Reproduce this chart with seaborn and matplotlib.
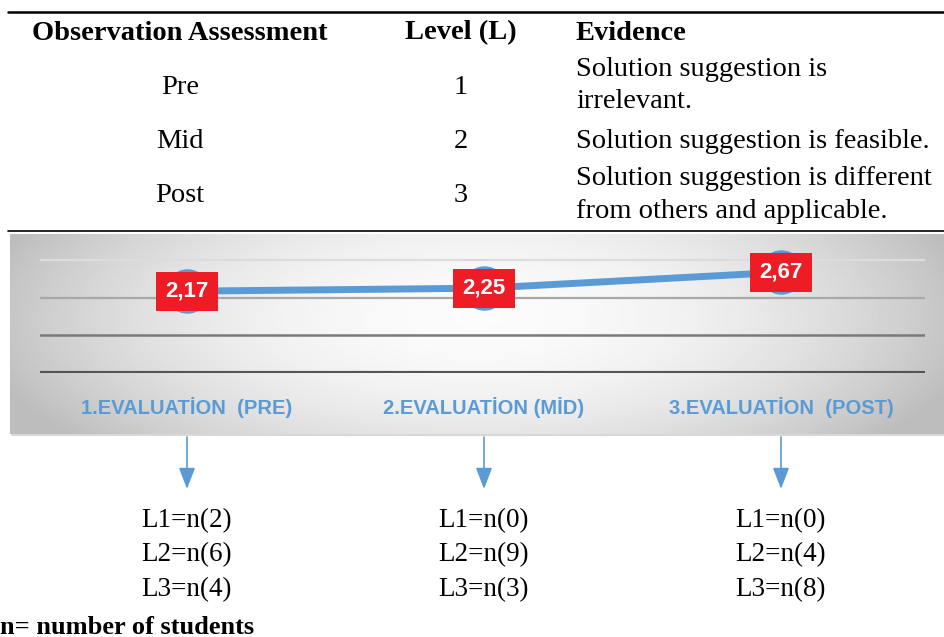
import numpy as np
import matplotlib
matplotlib.use("Agg")
import matplotlib.pyplot as plt
from matplotlib.transforms import Affine2D, blended_transform_factory
import seaborn as sns

# ---------------- data ----------------
assessments = ["Pre", "Mid", "Post"]
levels = [1, 2, 3]
evidence = [["Solution suggestion is", "irrelevant."],
            ["Solution suggestion is feasible."],
            ["Solution suggestion is different", "from others and applicable."]]
stages = ["1.EVALUATİON  (PRE)", "2.EVALUATİON (MİD)", "3.EVALUATİON  (POST)"]
means = [2.17, 2.25, 2.67]
n_L1 = [2, 0, 0]
n_L2 = [6, 9, 4]
n_L3 = [4, 3, 8]

BLUE = "#5B9BD5"
RED = "#EE1C25"
W, H = 944, 637

sns.set_theme(style="white")
serif = ["Liberation Serif", "DejaVu Serif"]
sans = ["Liberation Sans", "DejaVu Sans"]
plt.rcParams["font.family"] = serif
plt.rcParams["text.color"] = "black"

fig = plt.figure(figsize=(W / 100, H / 100), dpi=100)
fig.patch.set_facecolor("white")
px = Affine2D().scale(1 / W, -1 / H).translate(0, 1) + fig.transFigure


def fax(x0, y0, x1, y1):
    """axes from pixel box (top-left origin)"""
    return [x0 / W, 1 - y1 / H, (x1 - x0) / W, (y1 - y0) / H]


# ---------------- gradient panel ----------------
bg = fig.add_axes(fax(10, 234, 944, 434))
gx = np.linspace(0, 1, 467)
gy = np.linspace(0, 1, 100)
X, Y = np.meshgrid(gx, gy)
d = np.sqrt(((X - 0.5) / 0.55) ** 2 + ((Y - 0.42) / 1.0) ** 2)
img = np.clip(0.985 - 0.25 * d ** 2, 0.74, 1)
bg.imshow(img, cmap="gray", vmin=0, vmax=1, aspect="auto",
          extent=[0, 1, 1, 0], interpolation="bilinear")
bg.set_axis_off()

# ---------------- chart ----------------
ax = fig.add_axes(fax(40, 244, 925, 373))
ax.patch.set_alpha(0)
x_pos = list(range(len(stages)))
ax.axhline(3, color="#dcdcdc", lw=1.6, zorder=1)
ax.axhline(2, color="#a8a8a8", lw=1.6, zorder=1)
ax.axhline(1, color="#7a7a7a", lw=1.8, zorder=1)
ax.axhline(0, color="#555555", lw=3.0, zorder=1)
sns.lineplot(x=x_pos, y=means, ax=ax, color=BLUE, linewidth=5,
             marker="o", markersize=32, markeredgewidth=0, zorder=3)
for xi, m in zip(x_pos, means):
    ax.text(xi, m, f"{m:.2f}".replace(".", ","), ha="center", va="center",
            color="white", fontsize=16, fontweight="bold", family=sans,
            zorder=5,
            bbox=dict(boxstyle="square,pad=0.4", fc=RED, ec="none"))
ax.set_xlim((40 - 187) / 297, (925 - 187) / 297)
ax.set_ylim(0, (373 - 244) / 37.7)
ax.set_xticks(x_pos)
ax.set_xticklabels(stages, color=BLUE, fontsize=14.5, fontweight="bold",
                   family=sans)
ax.tick_params(axis="x", length=0, pad=17)
ax.set_yticks([])
for s in ax.spines.values():
    s.set_visible(False)

# ---------------- table ----------------
over = fig.add_axes([0, 0, 1, 1], zorder=10)
over.set_axis_off()
over.set_xlim(0, W)
over.set_ylim(H, 0)
over.plot([8, W], [12, 12], color="black", lw=1.8)
over.plot([8, W], [231, 231], color="black", lw=1.2)
over.plot([12, W], [435, 435], color="#d8d8d8", lw=1.5)

fs = 20.5
fig.text(180 / W, 1 - 33 / H, "Observation Assessment", ha="center",
         va="center", fontsize=fs, fontweight="bold")
fig.text(461 / W, 1 - 33 / H, "Level (L)", ha="center", va="center",
         fontsize=fs, fontweight="bold")
fig.text(576 / W, 1 - 33 / H, "Evidence", ha="left", va="center",
         fontsize=fs, fontweight="bold")
row_y = [87, 141, 195]
ev_y = [[70, 102], [141], [178, 212]]
for a, lv, ev, ry, ey in zip(assessments, levels, evidence, row_y, ev_y):
    fig.text(180 / W, 1 - ry / H, a, ha="center", va="center", fontsize=fs)
    fig.text(461 / W, 1 - ry / H, str(lv), ha="center", va="center",
             fontsize=fs)
    for line, yy in zip(ev, ey):
        fig.text(576 / W, 1 - yy / H, line, ha="left", va="center",
                 fontsize=fs)

# ---------------- arrows and counts ----------------
bt = blended_transform_factory(ax.transData, px)
for xi, a1, a2, a3 in zip(x_pos, n_L1, n_L2, n_L3):
    ax.annotate("", xy=(xi, 489), xytext=(xi, 437), xycoords=bt,
                textcoords=bt, annotation_clip=False,
                arrowprops=dict(arrowstyle="-|>,head_length=0.65,head_width=0.25",
                                mutation_scale=20, color=BLUE, lw=1.2,
                                shrinkA=0, shrinkB=0))
    for lab, val, yy in zip(["L1", "L2", "L3"], [a1, a2, a3], [521, 555, 590]):
        ax.text(xi, yy, f"{lab}=n({val})", transform=bt, ha="center",
                va="center", fontsize=19.5, clip_on=False)

fig.text(0 / W, 1 - 627 / H, "n= number of students", ha="left",
         va="center", fontsize=19, fontweight="bold")

fig.savefig("out.png", dpi=100)
